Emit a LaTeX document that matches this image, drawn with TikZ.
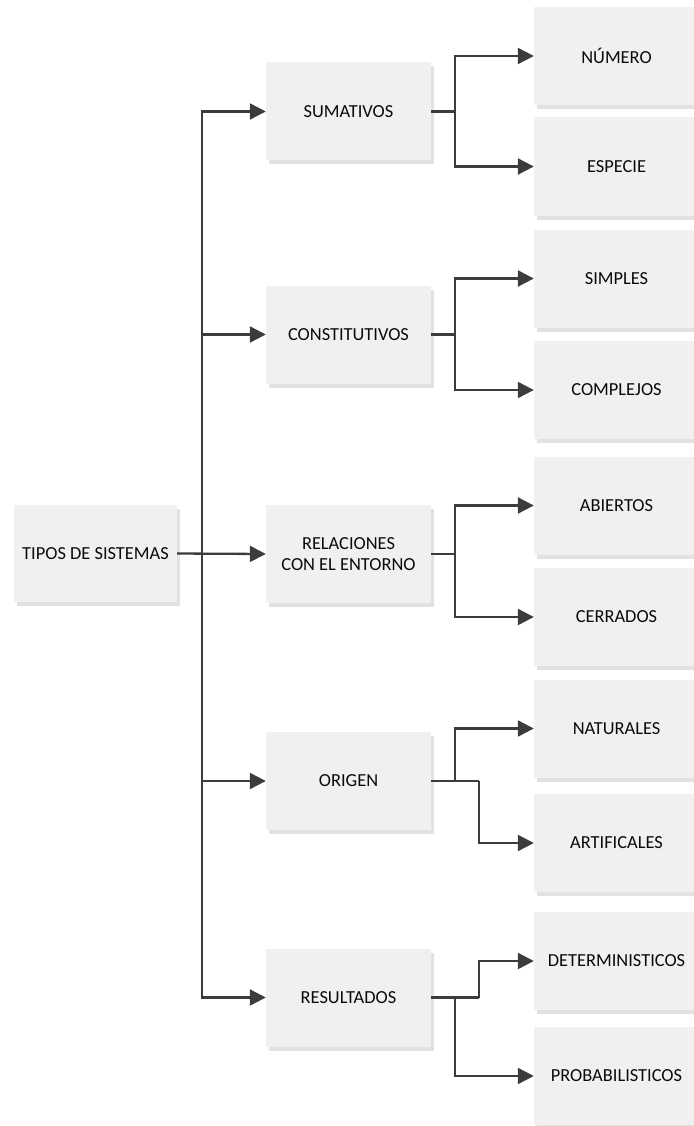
\documentclass[tikz,border=0pt]{standalone}
\usepackage{fontspec}
\setmainfont{Carlito}
\usetikzlibrary{arrows.meta,shadows}
\definecolor{boxfill}{HTML}{F0F0F0}
\definecolor{boxshade}{HTML}{E2E2E2}
\definecolor{linegray}{HTML}{3C3C3C}
\definecolor{txt}{HTML}{0A0A0A}
\begin{document}
\begin{tikzpicture}[x=1pt,y=-1pt,
  box/.style={fill=boxfill, draw=none, inner sep=0pt, align=center,
    minimum width=165pt, minimum height=98pt, text=txt,
    font=\fontsize{18.4}{21}\selectfont,
    drop shadow={shadow xshift=3pt, shadow yshift=-4pt, fill=boxshade, opacity=1}},
  link/.style={draw=linegray, line width=2.3pt},
  conn/.style={link, -{Triangle[length=16pt,width=16pt]}}]
\useasboundingbox (0,0) rectangle (693,1126);

% root
\node[box, minimum width=163pt, minimum height=97pt] (root) at (95.5,553.5) {TIPOS DE SISTEMAS};

% second level
\node[box] (m1) at (348.5,111.5) {SUMATIVOS};
\node[box] (m2) at (348.5,334.5) {CONSTITUTIVOS};
\node[box] (m3) at (348.5,554) {RELACIONES\\CON EL ENTORNO};
\node[box] (m4) at (348.5,781) {ORIGEN};
\node[box] (m5) at (348.5,997.5) {RESULTADOS};

% third level
\node[box] (r1) at (616.5,56) {NÚMERO};
\node[box] (r2) at (616.5,166.5) {ESPECIE};
\node[box] (r3) at (616.5,278.5) {SIMPLES};
\node[box] (r4) at (616.5,390) {COMPLEJOS};
\node[box] (r5) at (616.5,505.5) {ABIERTOS};
\node[box] (r6) at (616.5,617) {CERRADOS};
\node[box] (r7) at (616.5,728.5) {NATURALES};
\node[box] (r8) at (616.5,843) {ARTIFICALES};
\node[box] (r9) at (616.5,961) {DETERMINISTICOS};
\node[box] (r10) at (616.5,1076) {PROBABILISTICOS};

% trunk from the root
\coordinate (trunk) at (202,554);
\draw[conn] (root.east) -- (m3.west);
\foreach \m in {m1,m2,m4,m5} \draw[conn] (trunk) |- (\m.west);

% branches to the third level
\coordinate (b1) at (455,111.5);
\draw[link] (m1.east) -- (b1);
\draw[conn] (b1) |- (r1.west);
\draw[conn] (b1) |- (r2.west);

\coordinate (b2) at (455,334.5);
\draw[link] (m2.east) -- (b2);
\draw[conn] (b2) |- (r3.west);
\draw[conn] (b2) |- (r4.west);

\coordinate (b3) at (455,554);
\draw[link] (m3.east) -- (b3);
\draw[conn] (b3) |- (r5.west);
\draw[conn] (b3) |- (r6.west);

\coordinate (b4a) at (455,781);
\coordinate (b4b) at (479,781);
\draw[link] (m4.east) -- (b4b);
\draw[conn] (b4a) |- (r7.west);
\draw[conn] (b4b) |- (r8.west);

\coordinate (b5a) at (455,997.5);
\coordinate (b5b) at (479,997.5);
\draw[link] (m5.east) -- (b5b);
\draw[conn] (b5b) |- (r9.west);
\draw[conn] (b5a) |- (r10.west);
\end{tikzpicture}
\end{document}
